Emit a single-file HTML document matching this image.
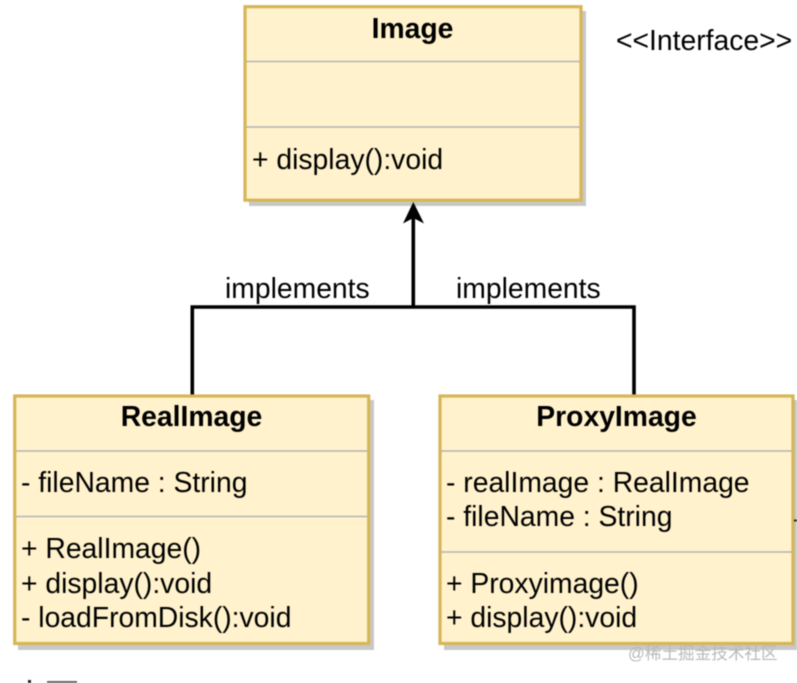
<!DOCTYPE html>
<html>
<head>
<meta charset="utf-8">
<style>
html,body{margin:0;padding:0;background:#fff;width:797px;height:683px;overflow:hidden}
svg{display:block;filter:blur(.4px)}
text{font-family:"Liberation Sans",Arial,sans-serif;font-size:28.3px;fill:#000}
.b{font-weight:bold;text-anchor:middle}
.box{fill:#fff2cc;stroke:#d6b656;stroke-width:3.2}
.sh{fill:#c8c8c8}
.div{stroke:#b2b2b2;stroke-width:1.6}
.con{fill:none;stroke:#000;stroke-width:3.6}
</style>
</head>
<body>
<svg width="797" height="683" viewBox="0 0 797 683" xmlns="http://www.w3.org/2000/svg">
<rect width="797" height="683" fill="#fff"/>

<rect class="sh" x="249" y="11" width="337" height="195"/>
<rect class="box" x="245" y="6.700" width="336" height="193.500"/>
<line class="div" x1="246" y1="61.500" x2="580" y2="61.500"/>
<line class="div" x1="246" y1="127" x2="580" y2="127"/>
<text class="b" x="412.500" y="38">Image</text>
<text x="252" y="169">+ display():void</text>

<path class="con" d="M192.300 395V307H634V395"/>
<path class="con" d="M413.300 307V216"/>
<path d="M413.300 202L424 223.500L413.300 218L403 223.500Z" fill="#000"/>

<text x="616" y="50">&lt;&lt;Interface&gt;&gt;</text>
<text x="225" y="298">implements</text>
<text x="456" y="298">implements</text>

<rect class="sh" x="18" y="400" width="356" height="250"/>
<rect class="box" x="14.700" y="396" width="354" height="247.500"/>
<line class="div" x1="16" y1="451" x2="367" y2="451"/>
<line class="div" x1="16" y1="516.500" x2="367" y2="516.500"/>
<text class="b" x="191.500" y="426">RealImage</text>
<text x="21" y="492">- fileName : String</text>
<text x="21" y="558">+ RealImage()</text>
<text x="21" y="593">+ display():void</text>
<text x="21" y="627">- loadFromDisk():void</text>

<rect class="sh" x="444" y="400" width="353" height="250"/>
<rect class="box" x="440" y="396" width="353" height="247.500"/>
<line class="div" x1="441" y1="451" x2="792" y2="451"/>
<line class="div" x1="441" y1="552" x2="792" y2="552"/>
<text class="b" x="616.500" y="426">ProxyImage</text>
<text x="446" y="492">- realImage : RealImage</text>
<text x="446" y="526">- fileName : String</text>
<text x="446" y="593">+ Proxyimage()</text>
<text x="446" y="627">+ display():void</text>

<rect x="794" y="519.500" width="3" height="2" fill="#222"/>
<text x="628" y="659" style="font-family:'Liberation Sans','Noto Sans CJK SC',sans-serif;font-size:16.600px;fill:#b9b9b9">@稀土掘金技术社区</text>

<rect x="28" y="680" width="3" height="3" fill="#222"/>
<rect x="47" y="681" width="30" height="2" fill="#666"/>
</svg>
</body>
</html>
